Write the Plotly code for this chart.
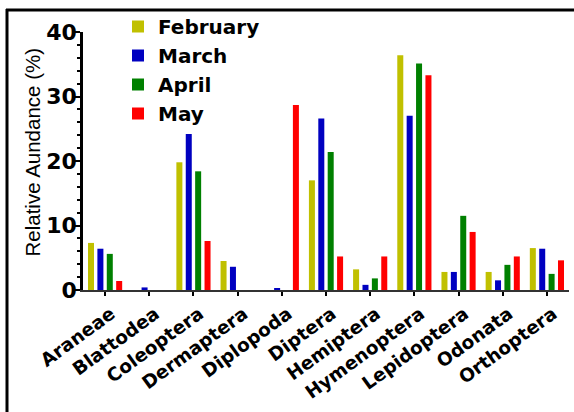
import plotly.graph_objects as go

categories = ["Araneae", "Blattodea", "Coleoptera", "Dermaptera", "Diplopoda", "Diptera",
              "Hemiptera", "Hymenoptera", "Lepidoptera", "Odonata", "Orthoptera"]
february = [7.3, 0.0, 19.8, 4.5, 0.0, 17.0, 3.2, 36.4, 2.8, 2.8, 6.5]
march    = [6.4, 0.4, 24.2, 3.6, 0.3, 26.6, 0.8, 27.0, 2.8, 1.5, 6.4]
april    = [5.6, 0.0, 18.4, 0.0, 0.0, 21.4, 1.8, 35.1, 11.5, 3.9, 2.5]
may      = [1.4, 0.0, 7.6, 0.0, 28.7, 5.2, 5.2, 33.3, 9.0, 5.2, 4.6]

series = [("February", february, "#C0C000"),
          ("March", march, "#0000C0"),
          ("April", april, "#008000"),
          ("May", may, "#FF0000")]

W, H = 574, 412
L, R, T, B = 83, 5, 32, 122
pw, ph = W - L - R, H - T - B

fig = go.Figure()
for name, vals, col in series:
    fig.add_trace(go.Bar(x=categories, y=vals, name=name, marker_color=col,
                         marker_line_width=0))

fig.update_layout(
    width=W, height=H,
    margin=dict(l=L, r=R, t=T, b=B, autoexpand=False),
    paper_bgcolor="white", plot_bgcolor="white",
    barmode="group", bargap=0.15, bargroupgap=0.36,
    showlegend=True,
    legend=dict(x=(118 - L) / pw, y=1 + (T - 7) / ph, xanchor="left", yanchor="top",
                bgcolor="rgba(0,0,0,0)", font=dict(family="DejaVu Sans", size=20,
                                                  color="black", weight="bold"),
                tracegroupgap=0),
    xaxis=dict(range=[-0.5, 10.5], showline=True, linecolor="#333333", linewidth=2,
               ticks="outside", ticklen=4, tickwidth=2, tickcolor="black",
               tickangle=-36, ticklabelshift=6,
               tickfont=dict(family="DejaVu Sans", size=18.5, color="black", weight="bold"),
               showgrid=False, zeroline=False),
    yaxis=dict(range=[0, 40], tickvals=[0, 10, 20, 30, 40], showline=True,
               linecolor="black", linewidth=2.5, ticks="outside", ticklen=6,
               tickwidth=2, tickcolor="black", ticklabelstandoff=-7,
               minor=dict(dtick=2, ticks="outside", ticklen=3, tickwidth=1.5,
                          tickcolor="black", showgrid=False),
               tickfont=dict(family="DejaVu Sans", size=22, color="black", weight="bold"),
               showgrid=False, zeroline=False),
    annotations=[
        dict(text="Relative Aundance (%)", xref="paper", yref="paper",
             x=(32 - L) / pw, y=(290 - 152.5) / ph,
             textangle=-90, showarrow=False, xanchor="center", yanchor="middle",
             font=dict(family="Liberation Sans", size=20.5, color="black")),
    ],
    shapes=[
        dict(type="line", xref="paper", yref="paper",
             x0=(7 - L) / pw, x1=(7 - L) / pw, y0=1 + (T - 9) / ph, y1=-1,
             line=dict(color="black", width=3)),
        dict(type="line", xref="paper", yref="paper",
             x0=(6 - L) / pw, x1=1.2, y0=1 + (T - 10) / ph, y1=1 + (T - 10) / ph,
             line=dict(color="black", width=3)),
    ],
)

fig.write_html("out.html", config={"displayModeBar": False},
               post_script="document.body.style.margin='0';")
